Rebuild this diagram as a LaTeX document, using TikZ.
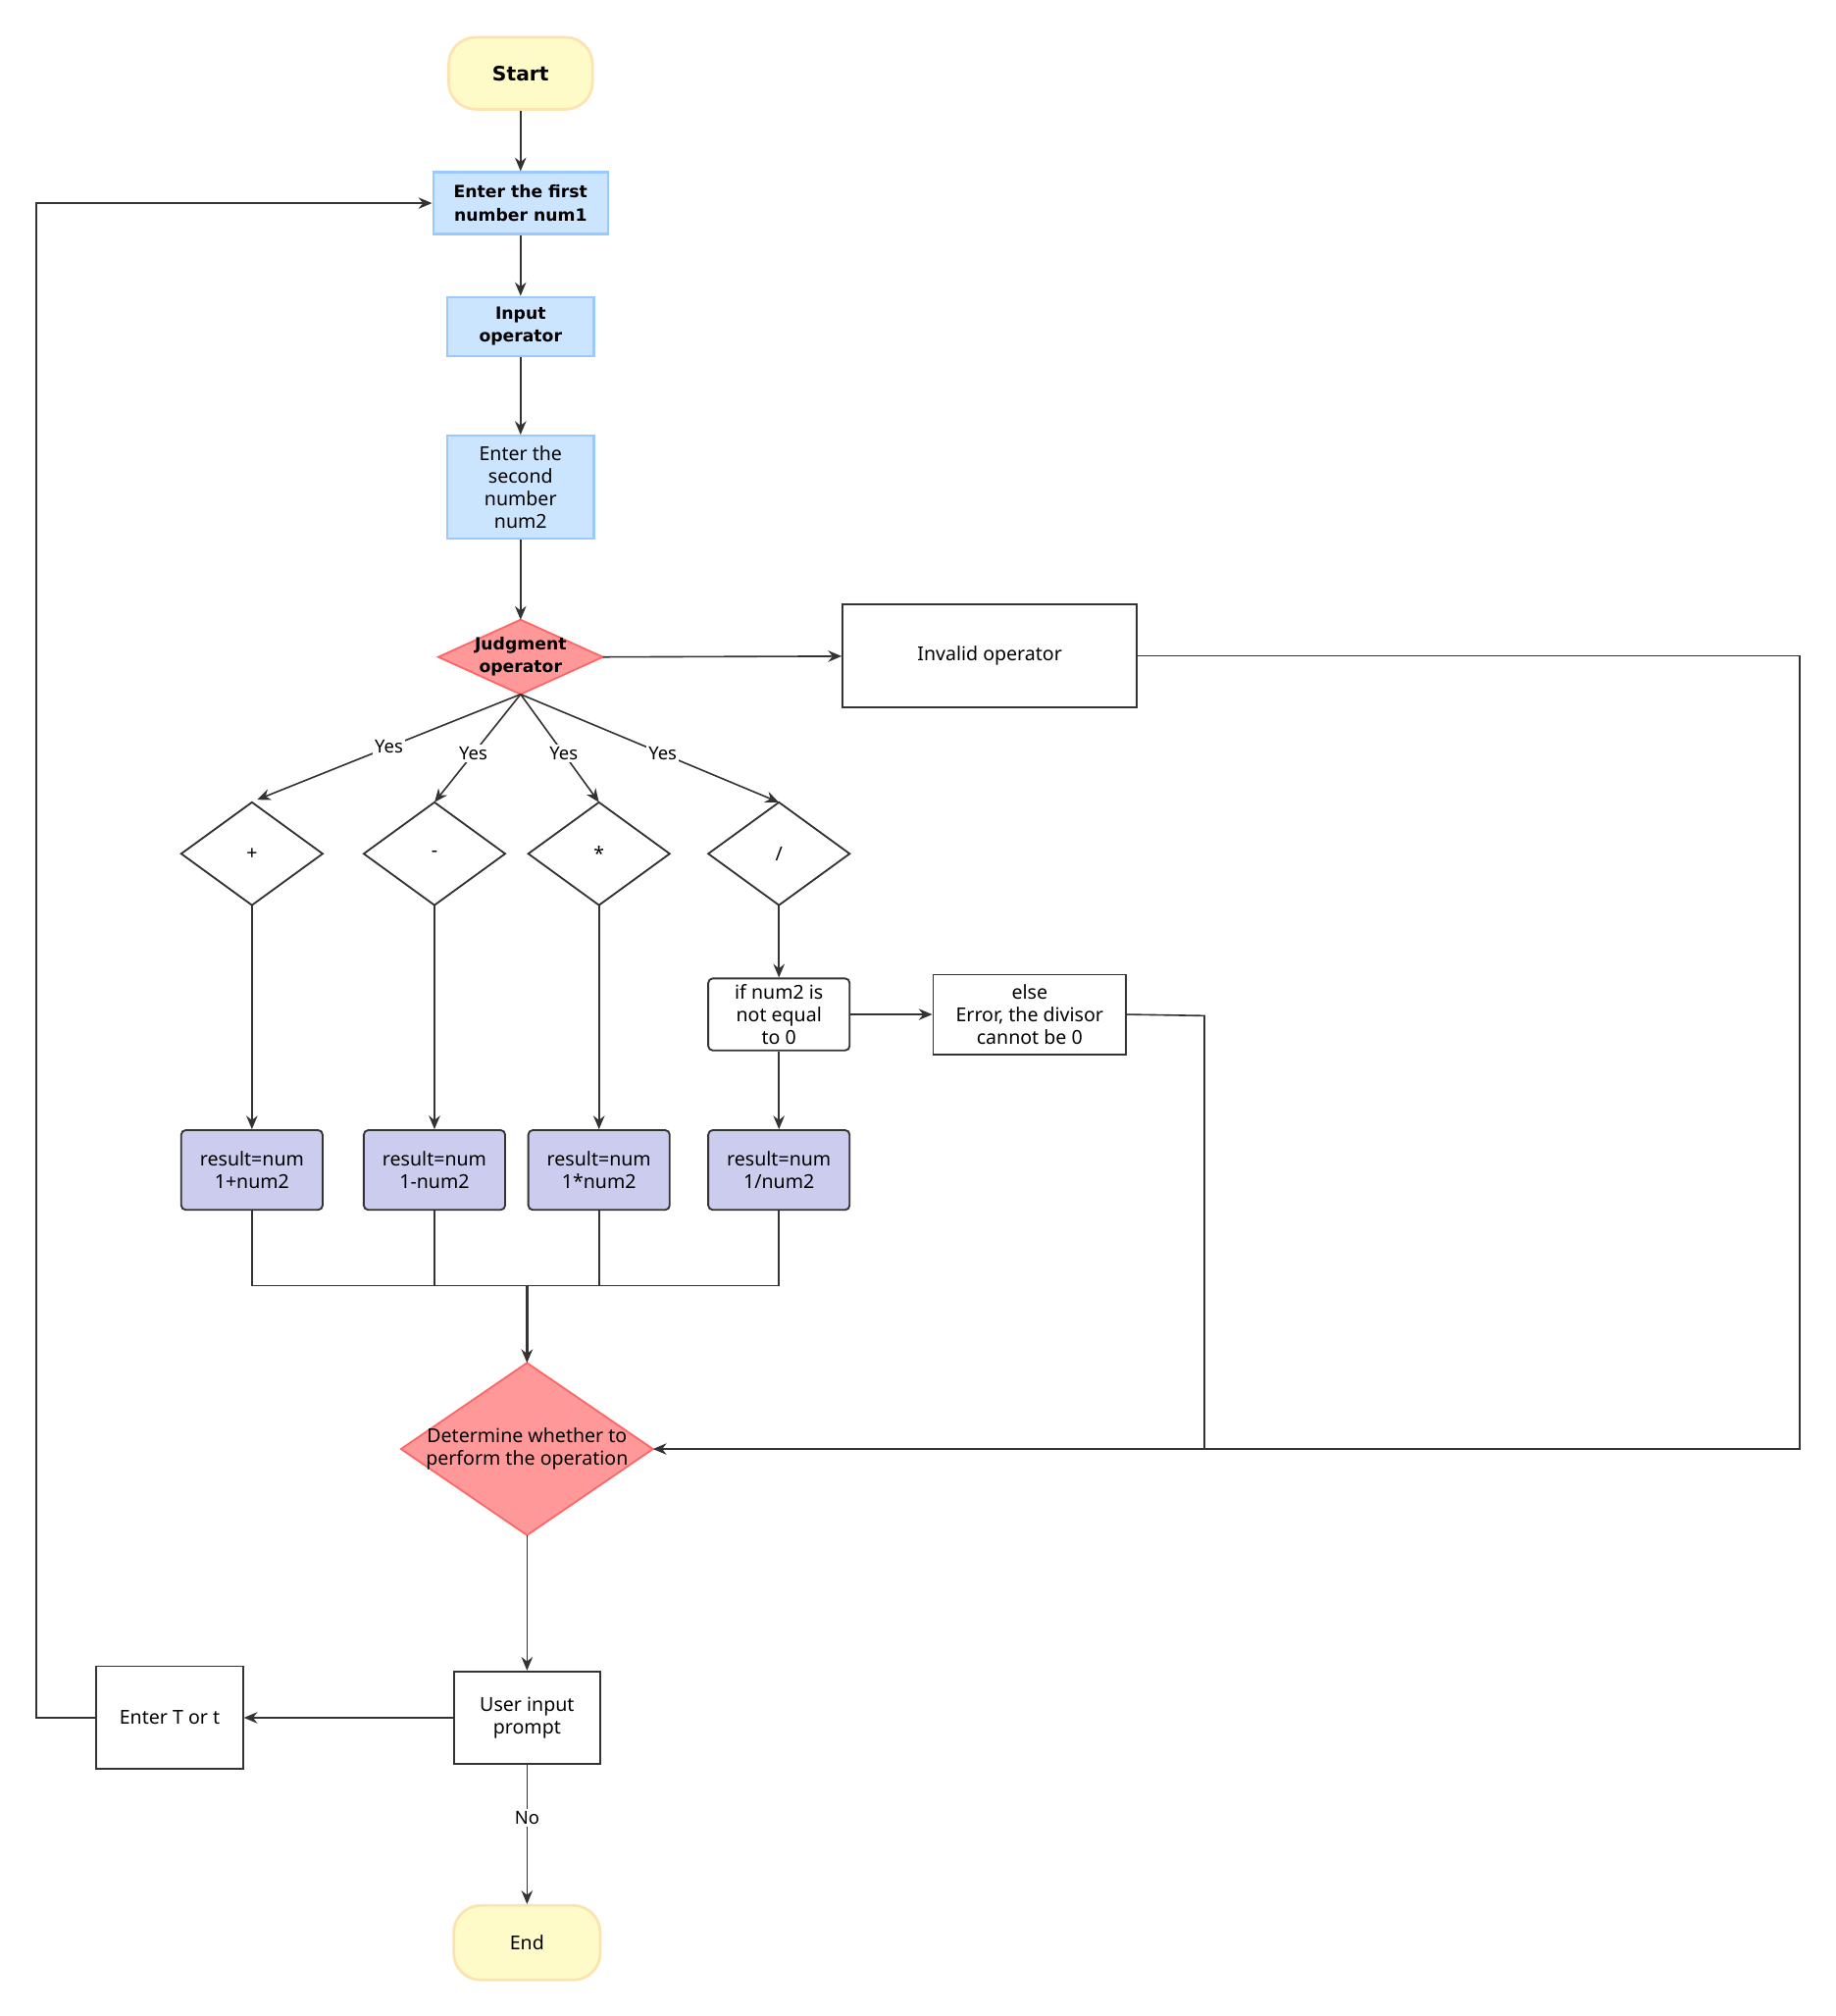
\documentclass[tikz,border=0pt]{standalone}
\usepackage{fontspec}
\setmainfont{Noto Sans}
\newfontfamily\headfont{DejaVu Sans}[Scale=0.88]
\usetikzlibrary{arrows.meta}
\definecolor{termfill}{HTML}{FFFBC8}
\definecolor{termline}{HTML}{FCE3B0}
\definecolor{inpfill}{HTML}{CCE5FF}
\definecolor{inpline}{HTML}{99C9FF}
\definecolor{decfill}{HTML}{FF9999}
\definecolor{decline}{HTML}{FF6666}
\definecolor{resfill}{HTML}{CCCCEE}
\definecolor{edge}{HTML}{333333}
\tikzset{
	box/.style={draw=edge, line width=0.8pt, align=center, inner sep=0pt, font=\fontsize{8.5}{10}\selectfont},
	term/.style={box, draw=termline, fill=termfill, line width=1.2pt, rounded corners=12pt},
	inp/.style={box, draw=inpline, fill=inpfill, line width=1pt},
	res/.style={box, fill=resfill, rounded corners=2pt},
	link/.style={draw=edge, line width=0.7pt, -{Stealth[length=6pt,width=5pt]}},
	seg/.style={draw=edge, line width=0.7pt},
	yes/.style={fill=white, inner sep=1pt, font=\fontsize{8}{9}\selectfont},
	head/.style={font=\fontsize{8.5}{10}\headfont\bfseries},
}
% diamond: name, x, y, half width, half height, draw, fill
\newcommand{\diam}[7]{%
	\filldraw[draw=#6, fill=#7, line width=0.8pt] (#2-#4,#3) -- (#2,#3-#5) -- (#2+#4,#3) -- (#2,#3+#5) -- cycle;
	\coordinate (#1-t) at (#2,#3-#5);
	\coordinate (#1-b) at (#2,#3+#5);
	\coordinate (#1-l) at (#2-#4,#3);
	\coordinate (#1-r) at (#2+#4,#3);
}
\begin{document}
\begin{tikzpicture}[x=0.02cm, y=-0.02cm]
			\useasboundingbox (0,0) rectangle (1428,1568);

			\node[term, head, minimum width=112*0.02cm, minimum height=56*0.02cm, font=\fontsize{10}{11}\headfont\bfseries] (start) at (405,57) {Start};
			\node[inp, head, minimum width=136*0.02cm, minimum height=48*0.02cm] (num1) at (405,158) {Enter the first\\number num1};
			\node[inp, head, minimum width=114*0.02cm, minimum height=46*0.02cm] (oper) at (405,254) {Input\\operator};
			\node[inp, minimum width=114*0.02cm, minimum height=80*0.02cm] (num2) at (405,379) {Enter the\\second\\number\\num2};

			\diam{judge}{405}{511}{64}{29}{decline}{decfill}
			\node[box, head, draw=none] (judge) at (405,511) {Judgment\\operator};
			\node[box, minimum width=229*0.02cm, minimum height=80*0.02cm] (invalid) at (770,510) {Invalid operator};

			\diam{plus}{196}{664}{55}{40}{edge}{white}
			\node[box, draw=none] (plus) at (196,664) {+};
			\diam{minus}{338}{664}{55}{40}{edge}{white}
			\node[box, draw=none] (minus) at (338,664) {-};
			\diam{times}{466}{664}{55}{40}{edge}{white}
			\node[box, draw=none] (times) at (466,664) {*};
			\diam{div}{606}{664}{55}{40}{edge}{white}
			\node[box, draw=none] (div) at (606,664) {/};

			\node[box, rounded corners=2pt, minimum width=110*0.02cm, minimum height=56*0.02cm] (ifnz) at (606,789) {if num2 is\\not equal\\to 0};
			\node[box, minimum width=150*0.02cm, minimum height=62*0.02cm] (else) at (801,789) {else\\Error, the divisor\\cannot be 0};

			\node[res, minimum width=110*0.02cm, minimum height=62*0.02cm] (radd) at (196,910) {result=num\\1+num2};
			\node[res, minimum width=110*0.02cm, minimum height=62*0.02cm] (rsub) at (338,910) {result=num\\1-num2};
			\node[res, minimum width=110*0.02cm, minimum height=62*0.02cm] (rmul) at (466,910) {result=num\\1*num2};
			\node[res, minimum width=110*0.02cm, minimum height=62*0.02cm] (rdiv) at (606,910) {result=num\\1/num2};

			\diam{det}{410}{1127}{98}{67}{decline}{decfill}
			\node[box, draw=none] (det) at (410,1127) {Determine whether to\\perform the operation};

			\node[box, minimum width=114*0.02cm, minimum height=72*0.02cm] (prompt) at (410,1336) {User input\\prompt};
			\node[box, minimum width=114*0.02cm, minimum height=80*0.02cm] (entert) at (132,1336) {Enter T or t};
			\node[term, minimum width=114*0.02cm, minimum height=58*0.02cm] (end) at (410,1511) {End};

			\coordinate (merge) at (410,1000);
			\coordinate (rtop) at (1400,510);
			\coordinate (rbot) at (1400,1127);
			\coordinate (etop) at (937,790);
			\coordinate (ebot) at (937,1127);
			\coordinate (lbot) at (28,1336);
			\coordinate (ltop) at (28,158);
			\coordinate (ptip) at (200,622);

			\draw[link] (start) -- (num1);
			\draw[link] (num1) -- (oper);
			\draw[link, line width=1.1pt] (oper) -- (num2);
			\draw[link] (num2) -- (judge-t);
			\draw[link] (judge-r) -- (invalid);

			\draw[link] (judge-b) -- node[yes, pos=0.5] {Yes} (ptip);
			\draw[link] (judge-b) -- node[yes, pos=0.55] {Yes} (minus-t);
			\draw[link] (judge-b) -- node[yes, pos=0.55] {Yes} (times-t);
			\draw[link] (judge-b) -- node[yes, pos=0.55] {Yes} (div-t);

			\draw[link] (plus-b) -- (radd);
			\draw[link] (minus-b) -- (rsub);
			\draw[link] (times-b) -- (rmul);
			\draw[link] (div-b) -- (ifnz);
			\draw[link] (ifnz) -- (else);
			\draw[link] (ifnz) -- (rdiv);

			\draw[seg] (radd.south) |- (merge);
			\draw[seg] (rsub.south) |- (merge);
			\draw[seg] (rmul.south) |- (merge);
			\draw[seg] (rdiv.south) |- (merge);
			\draw[link, line width=1.1pt] (merge) -- (det-t);

			\draw[link] (invalid.east) -- (rtop) -- (rbot) -- (det-r);
			\draw[seg] (else.east) -- (etop) -- (ebot);

			\draw[link] (det-b) -- (prompt);
			\draw[link] (prompt) -- (entert);
			\draw[link] (entert.west) -- (lbot) -- (ltop) -- (num1.west);
			\draw[link] (prompt) -- node[yes, pos=0.38] {No} (end);
		\end{tikzpicture}
\end{document}
